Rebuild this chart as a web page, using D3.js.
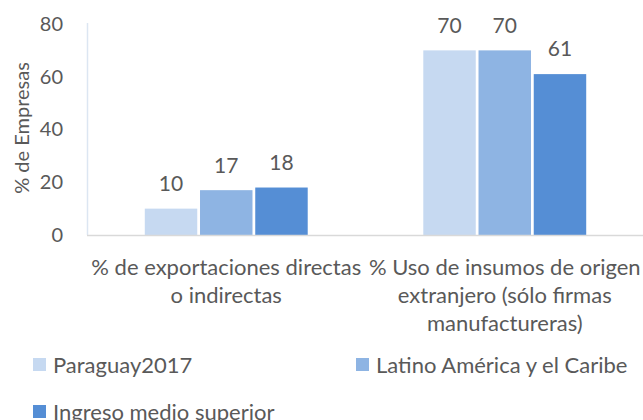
<!DOCTYPE html>
<html><head><meta charset="utf-8">
<script src="https://cdn.jsdelivr.net/npm/d3@7"></script>
<style>
html,body{margin:0;padding:0;background:#fff;}
svg{display:block;font-family:Lato, "Open Sans", sans-serif;}
</style></head>
<body><svg id="chart" width="643" height="420"></svg>
<script>
const categories = ["% de exportaciones directas o indirectas", "% Uso de insumos de origen extranjero (sólo firmas manufactureras)"];
const categoryLines = [["% de exportaciones directas", "o indirectas"], ["% Uso de insumos de origen", "extranjero (sólo firmas", "manufactureras)"]];
const seriesNames = ["Paraguay2017", "Latino América y el Caribe", "Ingreso medio superior"];
const paraguay = [10, 70];
const latam = [17, 70];
const ingresoMedio = [18, 61];
const yTicks = [0, 20, 40, 60, 80];
const colors = ["#C6D9F1", "#8EB4E3", "#558ED5"];
const yTitle = "% de Empresas";

const seriesValues = [paraguay, latam, ingresoMedio];
const svg = d3.select("#chart");
const textColor = "#595959";

const x = d3.scaleBand().domain(categories).range([87, 644]).paddingInner(0.415).paddingOuter(0.2075);
const xs = d3.scaleBand().domain(seriesNames).range([0, x.bandwidth()]).paddingInner(0.05);
const y = d3.scaleLinear().domain([0, 80]).range([235, 24]);

// y axis line
svg.append("line").attr("x1", 87.5).attr("x2", 87.5).attr("y1", y(80) - 1).attr("y2", y(0))
  .attr("stroke", "#DCE6F2").attr("stroke-width", 1.5);

// y tick labels
const yAxis = d3.axisLeft(y).tickValues(yTicks).tickSize(0).tickPadding(0);
const gy = svg.append("g").attr("transform", "translate(63,0)").call(yAxis);
gy.select(".domain").remove();
gy.selectAll("text").attr("fill", textColor).style("font-size", "20px").style("font-family", "Lato");

// bars
const groups = svg.append("g").selectAll("g").data(categories).join("g")
  .attr("transform", d => `translate(${x(d)},0)`);
groups.selectAll("rect").data((c, ci) => seriesNames.map((s, si) => ({s, si, v: seriesValues[si][ci]})))
  .join("rect")
  .attr("x", d => xs(d.s)).attr("width", xs.bandwidth())
  .attr("y", d => y(d.v)).attr("height", d => y(0) - y(d.v))
  .attr("fill", d => colors[d.si]);
groups.selectAll("text.lbl").data((c, ci) => seriesNames.map((s, si) => ({s, si, v: seriesValues[si][ci]})))
  .join("text").attr("class", "lbl")
  .attr("x", d => xs(d.s) + xs.bandwidth() / 2).attr("y", d => y(d.v) - 25)
  .attr("text-anchor", "middle").attr("dy", "0.35em")
  .attr("fill", textColor).style("font-size", "21px")
  .text(d => d.v);

// x axis line
svg.append("line").attr("x1", 87).attr("x2", 643).attr("y1", y(0) + 0.5).attr("y2", y(0) + 0.5)
  .attr("stroke", "#D9D9D9").attr("stroke-width", 1.5);

// category labels
categories.forEach((c, ci) => {
  const t = svg.append("text").attr("text-anchor", "middle").attr("fill", textColor).style("font-size", "22px");
  categoryLines[ci].forEach((ln, li) => {
    t.append("tspan").attr("x", x(c) + x.bandwidth() / 2).attr("y", 267 + li * 28).attr("dy", "0.35em").text(ln);
  });
});

// y title
svg.append("text").attr("transform", "translate(22,128) rotate(-90)")
  .attr("text-anchor", "middle").attr("dy", "0.35em").attr("fill", textColor).style("font-size", "20px").text(yTitle);

// legend
const legendPos = [[33, 365], [356, 365], [33, 412]];
seriesNames.forEach((s, i) => {
  const [lx, ly] = legendPos[i];
  svg.append("rect").attr("x", lx).attr("y", ly - 7).attr("width", 13).attr("height", 13).attr("fill", colors[i]);
  svg.append("text").attr("x", lx + 20).attr("y", ly).attr("dy", "0.35em").attr("fill", textColor)
    .style("font-size", "22px").text(s);
});
</script></body></html>
